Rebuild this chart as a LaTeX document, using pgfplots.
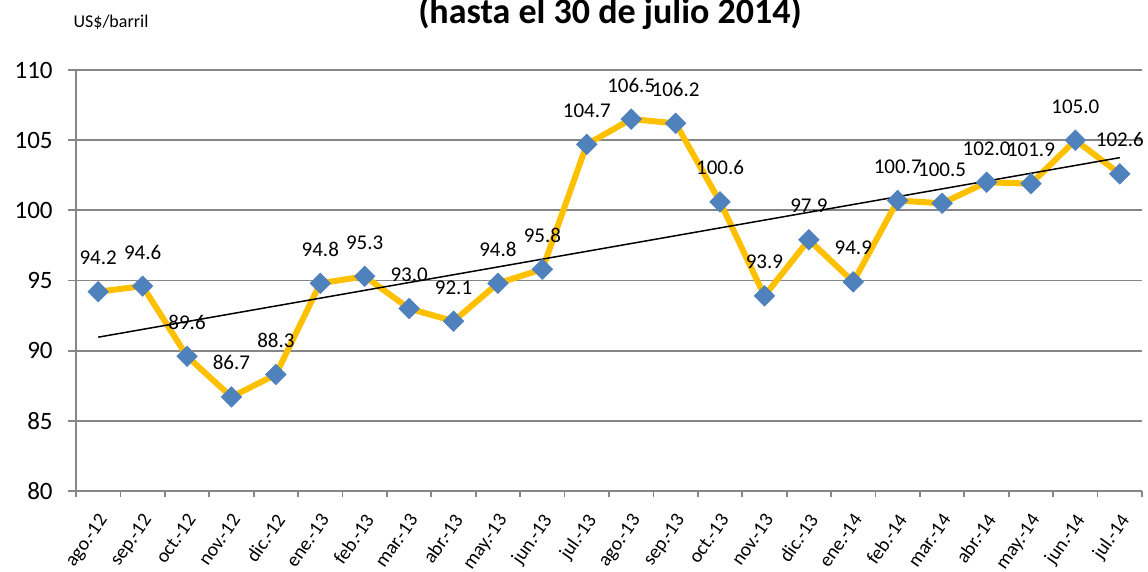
\documentclass[border=0pt]{standalone}
\usepackage{fontspec}
\setmainfont{Carlito}
\usepackage{pgfplots}
\usepackage{pgfplotstable}
\pgfplotsset{compat=1.18}
\definecolor{gold}{HTML}{FFC000}
\definecolor{mblue}{HTML}{4F81BD}
\definecolor{gridgray}{HTML}{868686}
\pgfplotstableread{
x y
0 94.2
1 94.6
2 89.6
3 86.7
4 88.3
5 94.8
6 95.3
7 93.0
8 92.1
9 94.8
10 95.8
11 104.7
12 106.5
13 106.2
14 100.6
15 93.9
16 97.9
17 94.9
18 100.7
19 100.5
20 102.0
21 101.9
22 105.0
23 102.6
}\datatable
\begin{document}
\begin{tikzpicture}
\useasboundingbox (0pt,0pt) rectangle (574pt,286pt);
\begin{axis}[
  at={(38pt,40.5pt)}, anchor=south west,
  scale only axis, width=533pt, height=210.5pt,
  xmin=-0.5, xmax=23.5, ymin=80, ymax=110,
  clip=false,
  axis x line*=bottom, axis y line*=left,
  axis line style={gridgray, line width=0.9pt},
  ytick={80,85,...,110},
  ymajorgrids, grid style={gridgray, line width=0.9pt},
  xtick={0,...,23},
  xticklabels={ago.-12,sep.-12,oct.-12,nov.-12,dic.-12,ene.-13,feb.-13,mar.-13,abr.-13,may.-13,jun.-13,jul.-13,ago.-13,sep.-13,oct.-13,nov.-13,dic.-13,ene.-14,feb.-14,mar.-14,abr.-14,may.-14,jun.-14,jul.-14},
  major x tick style={draw=none},
  minor xtick={-0.5,0.5,...,23.5},
  tick style={gridgray, line width=0.9pt},
  tick align=outside,
  major tick length=4pt, minor tick length=3pt,
  /pgf/number format/assume math mode=true,
  yticklabel style={font=\fontsize{12.5}{15}\selectfont, inner sep=0pt, xshift=-7.5pt, anchor=east},
  x tick label style={font=\fontsize{9.8}{11}\selectfont, inner sep=0pt, xshift=-0.5pt, yshift=-6.5pt, rotate=55, anchor=north east},
  nodes near coords={\pgfmathprintnumber[fixed,fixed zerofill,precision=1,assume math mode=true]{\pgfplotspointmeta}},
  every node near coord/.append style={font=\fontsize{10.5}{12}\selectfont, anchor=base, inner sep=0pt, yshift=13.5pt, black},
]
\addplot[gold, line width=3pt, mark=square*, mark size=3.54pt,
  mark options={rotate=45, fill=mblue, draw=mblue, line width=0.5pt}]
  table[x=x, y=y] \datatable;
\addplot[black, line width=0.75pt, no marks, nodes near coords={}, forget plot]
  table[x=x, y={create col/linear regression={y=y}}] \datatable;
\end{axis}
\node[font=\bfseries\fontsize{18}{21}\selectfont, anchor=base] at (305pt,274pt) {(hasta el 30 de julio 2014)};
\node[font=\fontsize{9}{11}\selectfont] at (55.5pt,275pt) {US\$/barril};
\end{tikzpicture}
\end{document}
